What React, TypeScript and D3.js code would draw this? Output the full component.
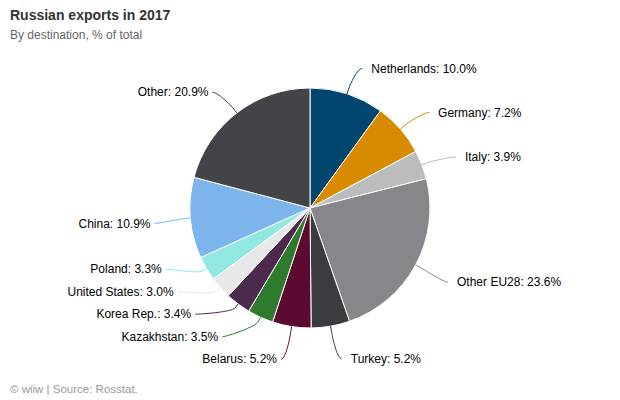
import * as d3 from "d3";

const countries = [
  "Netherlands",
  "Germany",
  "Italy",
  "Other EU28",
  "Turkey",
  "Belarus",
  "Kazakhstan",
  "Korea Rep.",
  "United States",
  "Poland",
  "China",
  "Other",
];
const shares = [10.0, 7.2, 3.9, 23.6, 5.2, 5.2, 3.5, 3.4, 3.0, 3.3, 10.9, 20.9];
const palette = [
  "#00466f",
  "#d98b00",
  "#bcbcbe",
  "#87878b",
  "#3a3c40",
  "#5c0a31",
  "#2e7b2e",
  "#4b2a4e",
  "#e8e8e8",
  "#91e8e1",
  "#7cb5ec",
  "#434348",
];

const W = 620;
const H = 400;
const cx = 310;
const cy = 208;
const r = 120;
const labelDist = 30;
const font = "'Liberation Sans', Arial, sans-serif";

type Slice = { name: string; value: number; color: string };

const App = () => {
  const data: Slice[] = countries.map((name, i) => ({
    name,
    value: shares[i],
    color: palette[i],
  }));

  const pie = d3
    .pie<Slice>()
    .sort(null)
    .value((d) => d.value)
    .startAngle(0)
    .endAngle(2 * Math.PI);
  const arcs = pie(data);
  const arc = d3.arc<d3.PieArcDatum<Slice>>().innerRadius(0).outerRadius(r);

  const R = r + labelDist;

  // label positions, like highcharts: natural point at r + distance, then pushed apart
  const labels = arcs.map((a) => {
    const mid = (a.startAngle + a.endAngle) / 2;
    const s = Math.sin(mid);
    const c = Math.cos(mid);
    return {
      a,
      mid,
      left: s < 0,
      y: cy - c * R,
      touch: [cx + s * r, cy - c * r],
      brk: [cx + s * (r + 5), cy - c * (r + 5)],
      ctrl: [cx + s * (r + 10), cy - c * (r + 10)],
    };
  });

  const spacing = 22.5;
  [true, false].forEach((side) => {
    const group = labels.filter((l) => l.left === side).sort((p, q) => q.y - p.y);
    for (let i = 1; i < group.length; i++) {
      group[i].y = Math.min(group[i].y, group[i - 1].y - spacing);
    }
  });

  return (
    <svg
      width={W}
      height={H}
      style={{ position: "absolute", left: 0, top: 0, background: "#fff" }}
      fontFamily={font}
    >
      <text x={10} y={20} fontSize={14} fontWeight="bold" fill="#333">
        Russian exports in 2017
      </text>
      <text x={10} y={39} fontSize={12} fill="#666">
        By destination, % of total
      </text>

      <g transform={`translate(${cx},${cy})`}>
        {arcs.map((a, i) => (
          <path key={i} d={arc(a) ?? ""} fill={a.data.color} stroke="#fff" strokeWidth={1} />
        ))}
      </g>

      {labels.map((l, i) => {
        const dy = Math.max(-R, Math.min(R, l.y - cy));
        const dx = Math.sqrt(R * R - dy * dy);
        const lx = l.left ? cx - dx : cx + dx;
        const ly = l.y + 3;
        const endX = l.left ? lx - 6 : lx + 6;
        const c1x = l.left ? endX + 5 : endX - 5;
        const path = `M${endX},${ly}C${c1x},${ly} ${l.ctrl[0]},${l.ctrl[1]} ${l.brk[0]},${l.brk[1]}L${l.touch[0]},${l.touch[1]}`;
        return (
          <g key={i}>
            <path d={path} fill="none" stroke={l.a.data.color} strokeWidth={1} />
            <text
              x={l.left ? lx - 10 : lx + 15}
              y={ly}
              dy="0.35em"
              fontSize={12}
              fill="#000"
              textAnchor={l.left ? "end" : "start"}
            >
              {`${l.a.data.name}: ${l.a.data.value.toFixed(1)}%`}
            </text>
          </g>
        );
      })}

      <text x={10} y={393} fontSize={11.5} fill="#999">
        © wiiw | Source: Rosstat.
      </text>
    </svg>
  );
};

export default App;
